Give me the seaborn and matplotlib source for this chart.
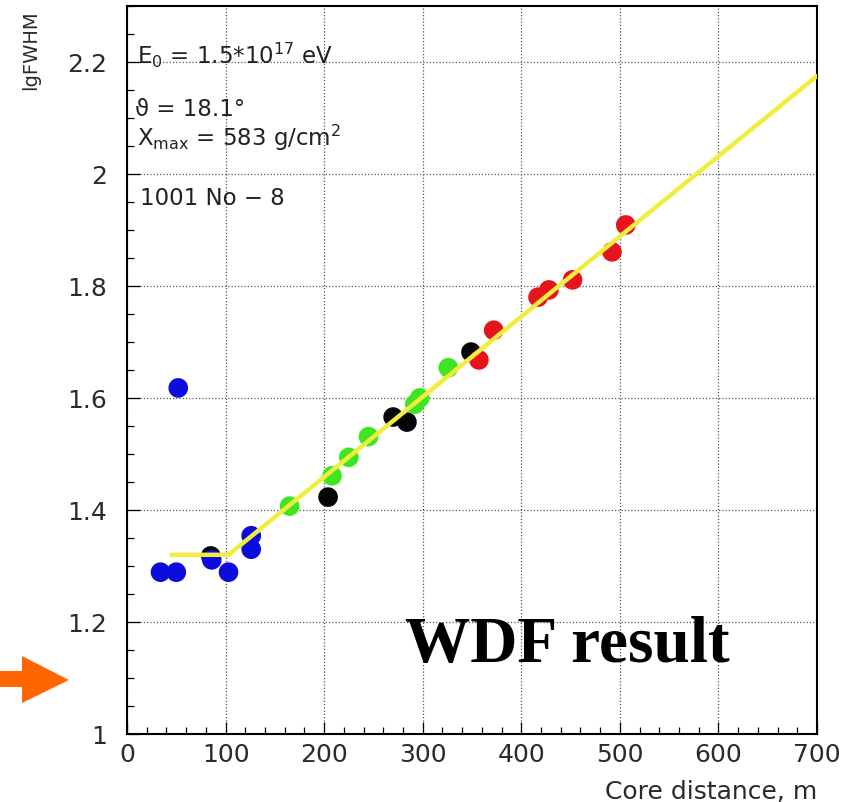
import numpy as np
import pandas as pd
import matplotlib
matplotlib.use("Agg")
import matplotlib.pyplot as plt
from matplotlib.patches import Polygon
from matplotlib.ticker import MultipleLocator, FormatStrFormatter
import seaborn as sns

# Measured lgFWHM versus core distance, grouped by detector colour
black_x = [85, 204, 270, 284, 349]
black_y = [1.318, 1.423, 1.566, 1.557, 1.682]
blue_x = [34, 50, 52, 86, 103, 126, 126]
blue_y = [1.289, 1.289, 1.618, 1.311, 1.289, 1.354, 1.330]
green_x = [165, 208, 225, 245, 292, 297, 326]
green_y = [1.407, 1.461, 1.494, 1.531, 1.589, 1.600, 1.654]
red_x = [357, 372, 417, 428, 452, 492, 506]
red_y = [1.668, 1.721, 1.780, 1.793, 1.811, 1.861, 1.909]

# Broken-line fit
fit_x = [45, 103, 700]
fit_y = [1.32, 1.32, 2.175]

x_ticks = [0, 100, 200, 300, 400, 500, 600, 700]
y_ticks = [1.0, 1.2, 1.4, 1.6, 1.8, 2.0, 2.2]

groups = [("black", black_x, black_y), ("blue", blue_x, blue_y),
          ("green", green_x, green_y), ("red", red_x, red_y)]
df = pd.concat([pd.DataFrame({"dist": gx, "lgfwhm": gy, "grp": name})
                for name, gx, gy in groups], ignore_index=True)
palette = {"black": "#050505", "blue": "#0c0cdc", "green": "#3ee622", "red": "#e8141c"}

sns.set_style("ticks")
plt.rcParams["font.family"] = ["DejaVu Sans"]
plt.rcParams["mathtext.fontset"] = "dejavusans"

W, H = 857, 803
fig = plt.figure(figsize=(W / 100, H / 100), dpi=100)
fig.patch.set_facecolor("white")


def fx(px):
    return px / W


def fy(py):
    return 1 - py / H


ax = fig.add_axes([fx(127), fy(735), (817 - 127) / W, (735 - 7) / H])
ax.set_facecolor("white")

sns.scatterplot(data=df, x="dist", y="lgfwhm", hue="grp", palette=palette,
                s=200, edgecolor="none", linewidth=0, legend=False, ax=ax, zorder=3)
sns.lineplot(x=fit_x, y=fit_y, sort=False, color="#f0ee3c", lw=3.2, ax=ax, zorder=4)

ax.set_xlim(0, 700)
ax.set_ylim(1.0, 2.3)
ax.set_xticks(x_ticks)
ax.set_yticks(y_ticks)
ax.xaxis.set_minor_locator(MultipleLocator(20))
ax.yaxis.set_minor_locator(MultipleLocator(0.05))
ax.yaxis.set_major_formatter(FormatStrFormatter("%g"))
ax.tick_params(axis="both", which="major", direction="in", length=9, width=0.9,
               labelsize=18, labelcolor="#2a2a2a", color="black")
ax.tick_params(axis="x", which="major", pad=6)
ax.tick_params(axis="y", which="major", pad=14)
ax.tick_params(axis="both", which="minor", direction="in", length=5, width=0.9, color="black")
ax.tick_params(top=False, right=False, which="both")

ax.grid(True, which="major", color="#555555", linestyle=(0, (1, 1.6)), linewidth=0.9)
for s in ax.spines.values():
    s.set_visible(True)
    s.set_linewidth(1.5)
    s.set_color("black")
ax.set_xlabel("")
ax.set_ylabel("")

# Axis titles
fig.text(fx(817), fy(799), "Core distance, m", ha="right", va="baseline",
         fontsize=18, color="#2a2a2a")
fig.text(fx(31), fy(10), "lgFWHM", rotation=90, ha="center", va="top",
         fontsize=14, color="#2a2a2a",
         family=["Liberation Sans Narrow", "DejaVu Sans"])

# Event parameters
ann = dict(ha="left", va="baseline", fontsize=16.5, color="#222222")
fig.text(fx(137), fy(64), r"E$_0$ = 1.5*10$^{17}$ eV", **ann)
fig.text(fx(135), fy(116), "\u03d1 = 18.1\u00b0", **ann)
fig.text(fx(137), fy(146), r"X$_{\rm max}$ = 583 g/cm$^2$", **ann)
fig.text(fx(140), fy(205), "1001 No \u2212 8", **ann)

fig.text(fx(567), fy(662), "WDF result", ha="center", va="baseline",
         fontsize=47, fontweight="bold", color="black",
         family=["Liberation Serif", "DejaVu Serif"])

# Orange pointer on the left margin
arrow_px = [(0, 672), (22, 672), (22, 657), (69, 681), (22, 704), (22, 688), (0, 688)]
fig.patches.append(Polygon([(fx(a), fy(b)) for a, b in arrow_px], closed=True,
                           transform=fig.transFigure, facecolor="#ff6600",
                           edgecolor="none", figure=fig))

fig.savefig("out.png", dpi=100, facecolor="white")
